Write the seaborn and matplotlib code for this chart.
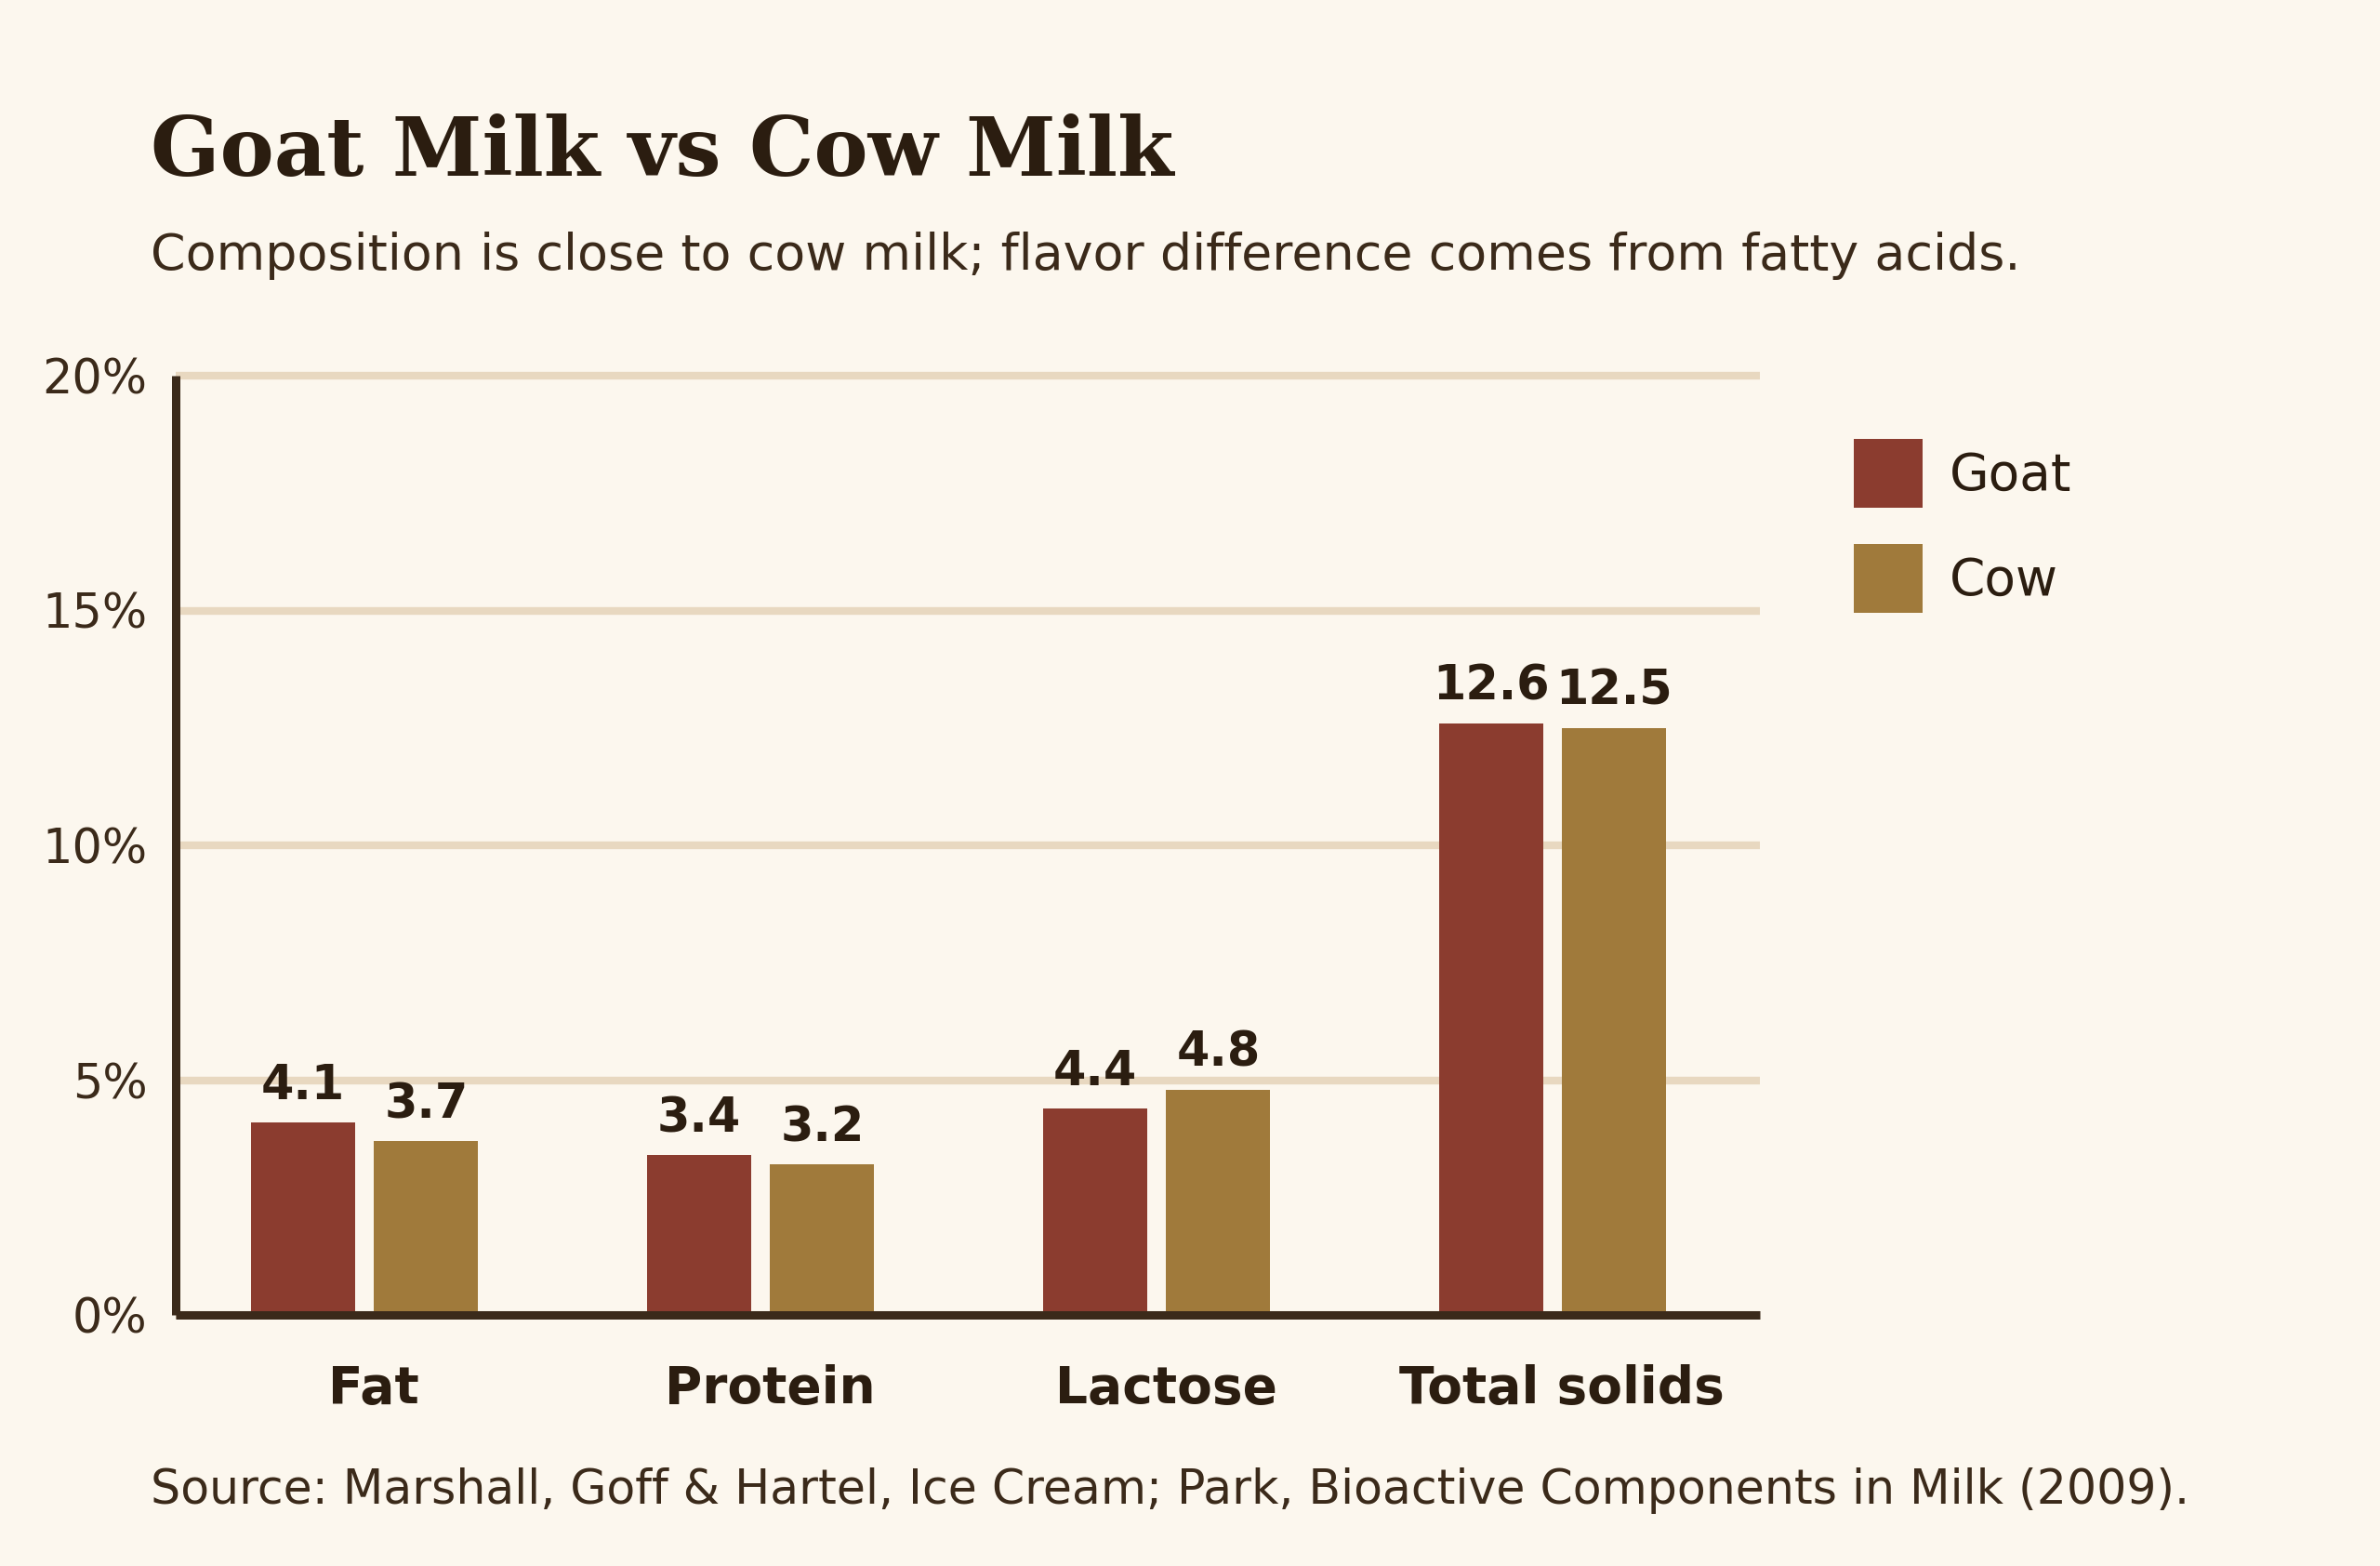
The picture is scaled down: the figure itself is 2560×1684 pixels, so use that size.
import matplotlib
matplotlib.use("Agg")
import matplotlib.pyplot as plt
import seaborn as sns
import pandas as pd

# ---- data ----
categories = ["Fat", "Protein", "Lactose", "Total solids"]
goat_values = [4.1, 3.4, 4.4, 12.6]
cow_values = [3.7, 3.2, 4.8, 12.5]
series_names = ["Goat", "Cow"]
y_ticks = [0, 5, 10, 15, 20]
y_tick_labels = ["0%", "5%", "10%", "15%", "20%"]

title = "Goat Milk vs Cow Milk"
subtitle = "Composition is close to cow milk; flavor difference comes from fatty acids."
source = "Source: Marshall, Goff & Hartel, Ice Cream; Park, Bioactive Components in Milk (2009)."

df = pd.DataFrame({
    "category": categories * 2,
    "value": goat_values + cow_values,
    "milk": [series_names[0]] * len(categories) + [series_names[1]] * len(categories),
})

# ---- style ----
BG = "#FCF7EE"
GOAT = "#8B3C2F"
COW = "#A07A3B"
GRID = "#E8D8C0"
SPINE = "#3B2A1A"
TEXT_DARK = "#2B1D10"
TEXT_MID = "#3B2A1A"

sns.set_theme(style="white", rc={"axes.facecolor": BG, "figure.facecolor": BG})
plt.rcParams["font.family"] = ["DejaVu Sans"]

W, H = 2560, 1684
DPI = 200
fig = plt.figure(figsize=(W / DPI, H / DPI), dpi=DPI, facecolor=BG)

ax_left, ax_right, ax_top, ax_bottom = 189, 1893, 404, 1414
ax = fig.add_axes([ax_left / W, 1 - ax_bottom / H, (ax_right - ax_left) / W, (ax_bottom - ax_top) / H])
ax.set_facecolor(BG)

sns.barplot(
    data=df, x="category", y="value", hue="milk",
    order=categories, hue_order=series_names,
    palette=[GOAT, COW], saturation=1,
    width=0.623, gap=0.156, errorbar=None,
    linewidth=0, zorder=3, ax=ax,
)

# value labels
for container in ax.containers:
    for bar in container:
        h = bar.get_height()
        ax.annotate(
            f"{h:.1f}",
            xy=(bar.get_x() + bar.get_width() / 2, h),
            xytext=(0, 9), textcoords="offset points",
            ha="center", va="baseline",
            fontsize=18.3, fontweight="bold", color=TEXT_DARK, zorder=5,
        )

ax.set_ylim(0, 20)
ax.set_xlim(-0.4765, 3.5235)
ax.set_yticks(y_ticks, y_tick_labels)
ax.set_xticks([i + 0.0235 for i in range(len(categories))], categories,
              fontweight="bold", fontsize=19.8, color=TEXT_DARK)
ax.tick_params(axis="y", length=0, pad=11, labelsize=18.3, labelcolor=TEXT_MID)
ax.tick_params(axis="x", length=0, pad=19)
ax.set_xlabel("")
ax.set_ylabel("")

ax.yaxis.grid(True, color=GRID, linewidth=3.0, solid_capstyle="butt")
ax.xaxis.grid(False)
ax.set_axisbelow(True)
for gl in ax.get_ygridlines():
    gl.set_clip_on(False)
    gl.set_solid_capstyle("butt")

for side in ["top", "right"]:
    ax.spines[side].set_visible(False)
for side in ["left", "bottom"]:
    ax.spines[side].set_color(SPINE)
    ax.spines[side].set_linewidth(3.24)
    ax.spines[side].set_zorder(4)
    ax.spines[side].set_capstyle("butt")

handles, labels = ax.get_legend_handles_labels()
ax.legend(
    handles, labels,
    loc="upper left", bbox_to_anchor=(1994 / W, 1 - 472 / H),
    bbox_transform=fig.transFigure, frameon=False,
    fontsize=19.8, labelcolor=TEXT_DARK,
    handlelength=1.345, handleheight=1.692, handletextpad=0.53,
    labelspacing=0.71, borderpad=0, borderaxespad=0,
)

fig.text(162 / W, 1 - 189 / H, title, fontfamily="DejaVu Serif", fontweight="bold",
         fontsize=31.4, color=TEXT_DARK, ha="left", va="baseline")
fig.text(162 / W, 1 - 290 / H, subtitle, fontsize=19.4, color=TEXT_MID,
         ha="left", va="baseline")
fig.text(162 / W, 1 - 1617 / H, source, fontsize=18.2, color=TEXT_MID,
         ha="left", va="baseline")

fig.savefig("out.png", dpi=DPI, facecolor=BG)
